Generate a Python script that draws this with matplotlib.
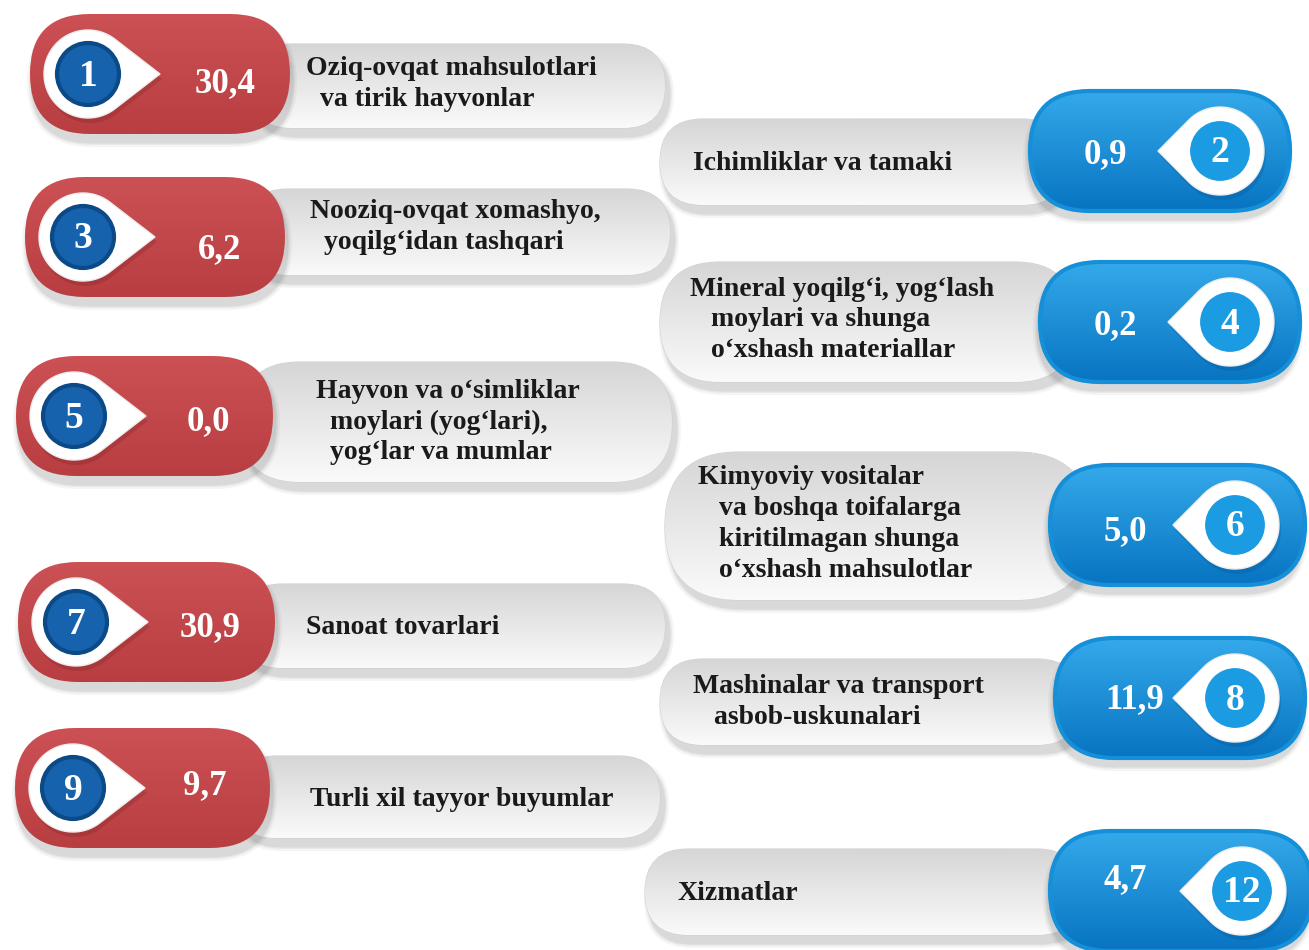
import numpy as np
import matplotlib.pyplot as plt
from matplotlib.patches import FancyBboxPatch, Polygon, Circle
from matplotlib.colors import to_rgb

# data
numbers = [1, 2, 3, 4, 5, 6, 7, 8, 9, 12]
values = [30.4, 0.9, 6.2, 0.2, 0.0, 5.0, 30.9, 11.9, 9.7, 4.7]
sides = ['L', 'R', 'L', 'R', 'L', 'R', 'L', 'R', 'L', 'R']
labels = [
    "Oziq-ovqat mahsulotlari\n  va tirik hayvonlar",
    "Ichimliklar va tamaki",
    "Nooziq-ovqat xomashyo,\n  yoqilg‘idan tashqari",
    "Mineral yoqilg‘i, yog‘lash\n   moylari va shunga\n   o‘xshash materiallar",
    "Hayvon va o‘simliklar\n  moylari (yog‘lari),\n  yog‘lar va mumlar",
    "Kimyoviy vositalar\n   va boshqa toifalarga\n   kiritilmagan shunga\n   o‘xshash mahsulotlar",
    "Sanoat tovarlari",
    "Mashinalar va transport\n   asbob-uskunalari",
    "Turli xil tayyor buyumlar",
    "Xizmatlar",
]

# layout in pixels: pill (x0, x1, yc), grey bar (x0, x1, yc, h), label x
pill = [(30, 290, 74), (1030, 1290, 151), (25, 285, 237), (1040, 1300, 322),
        (16, 273, 416), (1050, 1305, 525), (18, 275, 622), (1055, 1305, 698),
        (15, 270, 788), (1050, 1312, 891)]
bar = [(250, 665, 86, 84), (660, 1065, 162, 86), (245, 670, 232, 86),
       (660, 1075, 322, 120), (240, 672, 422, 120), (665, 1090, 526, 148),
       (240, 665, 626, 84), (660, 1080, 702, 86), (235, 660, 797, 82),
       (645, 1080, 892, 86)]
label_x = [306, 693, 310, 690, 316, 698, 306, 693, 310, 678]
label_dy = [-2, 2, -5, -2, 0, -2, 2, 0, 2, 2]
value_dy = [10, 4, 13, 4, 6, 7, 6, 2, -2, -11]
PILL_H = 120

BLUE_DARK = '#0874c2'
BLUE_LIGHT = '#34a9ea'

fig = plt.figure(figsize=(13.09, 9.5), dpi=100)
ax = fig.add_axes([0, 0, 1, 1])
ax.set_xlim(0, 1309)
ax.set_ylim(950, 0)
ax.axis('off')


def stadium(x0, x1, yc, h, **kw):
    return FancyBboxPatch((x0, yc - h / 2), x1 - x0, h,
                          boxstyle=f"round,pad=0,rounding_size={h / 2}", **kw)


def gradient_fill(patch, c0, c1, x0, x1, y0, y1, z=2):
    ax.add_patch(patch)
    t = np.linspace(0, 1, 64)
    a, b = np.array(to_rgb(c0)), np.array(to_rgb(c1))
    cols = a[None, :] * (1 - t[:, None]) + b[None, :] * t[:, None]
    im = ax.imshow(cols[:, None, :], extent=(x0, x1, y1, y0), origin='upper',
                   aspect='auto', zorder=z, interpolation='bilinear')
    im.set_clip_path(patch)


def shadow(x0, x1, yc, h, dx, dy, z):
    for k, al in zip([10, 6, 3], [0.06, 0.08, 0.10]):
        ax.add_patch(stadium(x0 + dx - k / 2, x1 + dx + k / 2, yc + dy, h + k,
                             facecolor='#555555', edgecolor='none', alpha=al, zorder=z))


def drop(cx, cy, R, d, right):
    a = np.arccos(R / d)
    t = np.linspace(a, 2 * np.pi - a, 80)
    sgn = 1 if right else -1
    pts = np.column_stack([cx + sgn * R * np.cos(t), cy + R * np.sin(t)])
    return np.vstack([pts, [cx + sgn * d, cy]])


for i in range(len(numbers)):
    left = sides[i] == 'L'
    bx0, bx1, byc, bh = bar[i]
    px0, px1, pyc = pill[i]

    # grey label bar
    shadow(bx0, bx1, byc, bh, 4, 8, 1)
    gp = stadium(bx0, bx1, byc, bh, facecolor='none', edgecolor='#d0d0d0', lw=0.8, zorder=2)
    gradient_fill(gp, '#d6d6d6', '#fafafa', bx0, bx1, byc - bh / 2, byc + bh / 2, z=2)

    # coloured pill
    shadow(px0, px1, pyc, PILL_H, 2 if left else -2, 8, 3)
    pp = stadium(px0, px1, pyc, PILL_H, facecolor='none', edgecolor='none', zorder=4)
    if left:
        gradient_fill(pp, '#cc5154', '#b83e41', px0, px1, pyc - 60, pyc + 60, z=4)
    else:
        gradient_fill(pp, BLUE_LIGHT, BLUE_DARK, px0, px1, pyc - 60, pyc + 60, z=4)
        ax.add_patch(stadium(px0, px1, pyc, PILL_H, facecolor='none',
                             edgecolor='#1590d8', lw=3, zorder=4.5))

    # white drop with numbered circle
    if left:
        cx = px0 + 58
        pts = drop(cx, pyc, 44, 72, True)
    else:
        cx = px1 - 70
        pts = drop(cx, pyc, 44, 62, False)
    ax.add_patch(Polygon(pts + [2, 5], closed=True, facecolor='#7a1f22' if left else '#06508c',
                         alpha=0.25, edgecolor='none', zorder=5))
    ax.add_patch(Polygon(pts, closed=True, facecolor='white', edgecolor='#eeeeee',
                         lw=1, zorder=5.5))
    if left:
        ax.add_patch(Circle((cx, pyc), 31, facecolor='#1762ad', edgecolor='#0c4a87',
                            lw=3, zorder=6))
    else:
        ax.add_patch(Circle((cx, pyc), 32, facecolor='#1a9be2', edgecolor='white',
                            lw=3, zorder=6))
    ax.text(cx, pyc + 2, str(numbers[i]), color='white', fontsize=27, fontweight='bold',
            family='Liberation Serif', ha='center', va='center', zorder=7)

    # value
    vx = px1 - 65 if left else px0 + 75
    if not left and numbers[i] == 8:
        vx = px0 + 80
    ax.text(vx, pyc + value_dy[i], f"{values[i]:.1f}".replace('.', ','), color='white',
            fontsize=25, fontweight='bold', family='Liberation Serif',
            ha='center', va='center', zorder=7)

    # label
    ax.text(label_x[i], byc + label_dy[i], labels[i], color='#1a1a1a',
            fontsize=20, fontweight='bold', family='Liberation Serif',
            ha='left', va='center', linespacing=1.3, zorder=7)

ax.set_xlim(0, 1309)
ax.set_ylim(950, 0)
fig.savefig('out.png', dpi=100, facecolor='white')
